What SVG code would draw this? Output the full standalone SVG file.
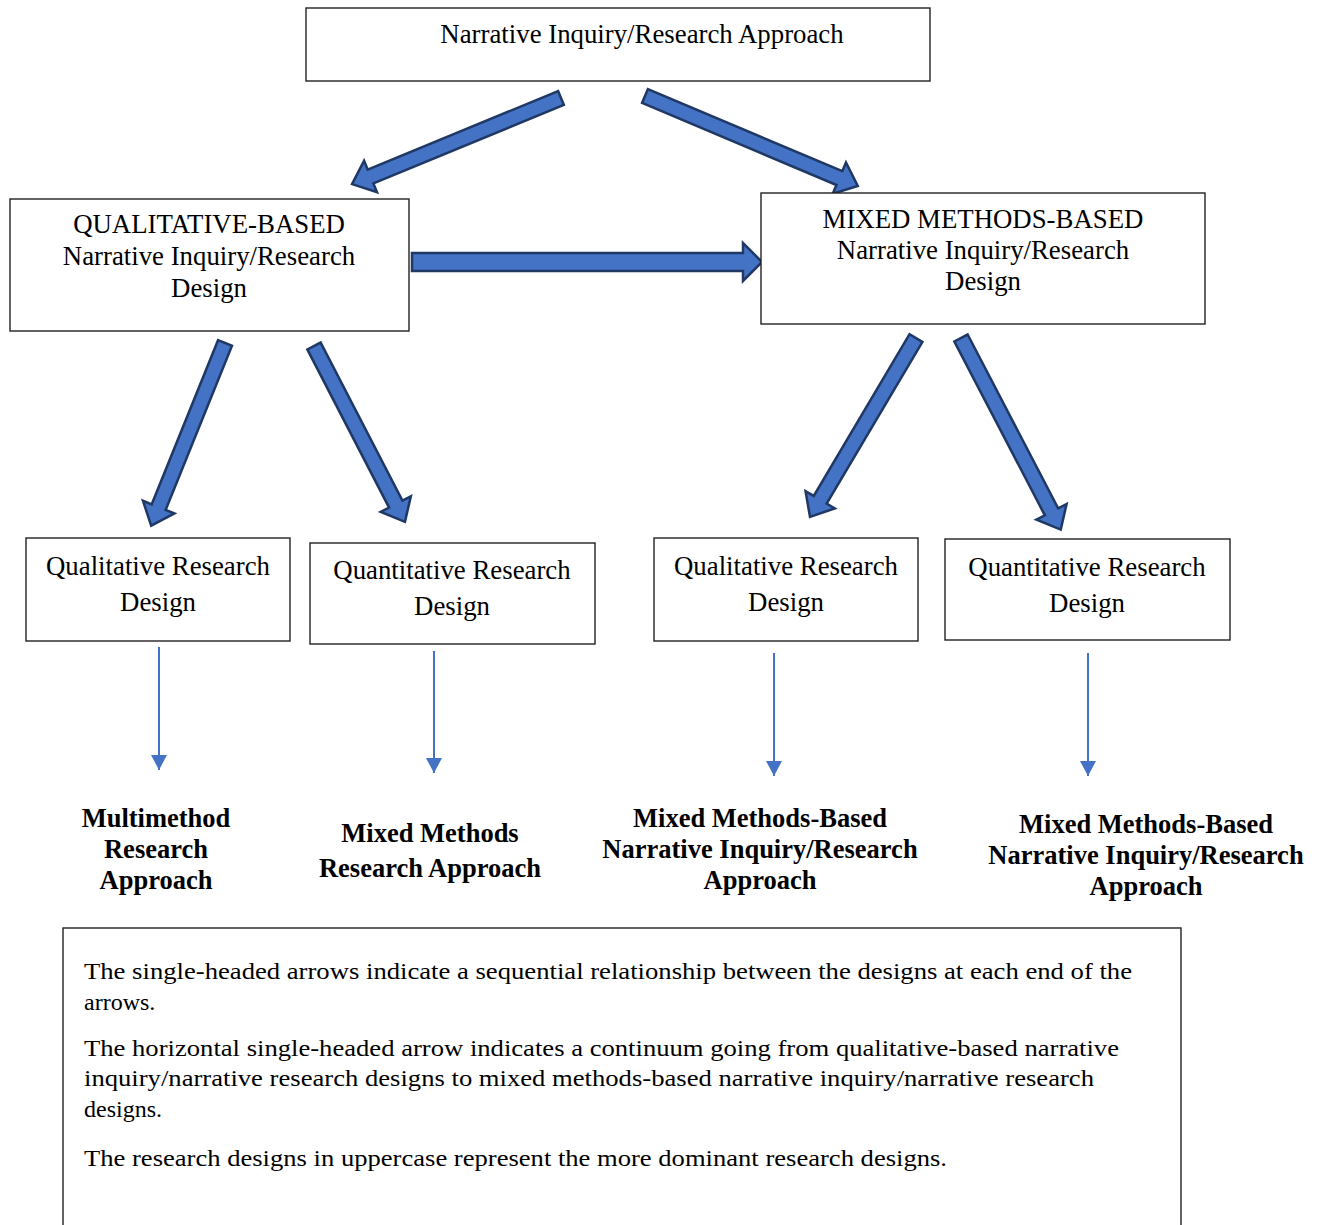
<svg xmlns="http://www.w3.org/2000/svg" width="1322" height="1225" viewBox="0 0 1322 1225">
<style>
.box{fill:#fff;stroke:#222;stroke-width:1.4}
.t{font-family:"Liberation Serif","Times New Roman",serif;font-size:26.8px;fill:#000;text-anchor:middle}
.b{font-family:"Liberation Serif","Times New Roman",serif;font-size:26.5px;font-weight:bold;fill:#000;text-anchor:middle}
.n{font-family:"Liberation Serif","Times New Roman",serif;font-size:24px;fill:#000}
.blk{fill:#4472C4;stroke:#1F3864;stroke-width:2.5;stroke-linejoin:miter}
.thin{stroke:#4472C4;stroke-width:2;fill:none}
</style>
<defs>
<marker id="ah" markerUnits="userSpaceOnUse" markerWidth="16" markerHeight="16" refX="15" refY="8" orient="auto">
<path d="M0,0 L15,8 L0,16 Z" fill="#4472C4"/>
</marker>
</defs>
<rect width="1322" height="1225" fill="#fff"/>

<g id="connectors">
<polygon class="blk" transform="translate(561,98) rotate(157.6)" points="0,-7.5 206,-7.5 206,-17 226,0 206,17 206,7.5 0,7.5"/>
<polygon class="blk" transform="translate(645,96) rotate(22.9)" points="0,-7.5 211,-7.5 211,-17 231,0 211,17 211,7.5 0,7.5"/>
<polygon class="blk" points="412,253 743,253 743,243 762,262 743,281 743,271 412,271"/>
<polygon class="blk" transform="translate(225,343) rotate(112)" points="0,-7.5 177,-7.5 177,-17 197,0 177,17 177,7.5 0,7.5"/>
<polygon class="blk" transform="translate(314,346) rotate(62.66)" points="0,-7.5 178,-7.5 178,-17 198,0 178,17 178,7.5 0,7.5"/>
<polygon class="blk" transform="translate(916,338) rotate(120.64)" points="0,-7.5 188,-7.5 188,-17 208,0 188,17 188,7.5 0,7.5"/>
<polygon class="blk" transform="translate(961,338) rotate(62.5)" points="0,-7.5 196,-7.5 196,-17 216,0 196,17 196,7.5 0,7.5"/>
<line class="thin" x1="159" y1="647" x2="159" y2="770" marker-end="url(#ah)"/>
<line class="thin" x1="434" y1="651" x2="434" y2="773" marker-end="url(#ah)"/>
<line class="thin" x1="774" y1="653" x2="774" y2="776" marker-end="url(#ah)"/>
<line class="thin" x1="1088" y1="653" x2="1088" y2="776" marker-end="url(#ah)"/>
</g>

<g id="top">
<rect class="box" x="306" y="8" width="624" height="73"/>
<text class="t" x="642" y="43">Narrative Inquiry/Research Approach</text>
</g>

<g id="qual-based">
<rect class="box" x="10" y="199" width="399" height="132"/>
<text class="t" x="209" y="233">QUALITATIVE-BASED</text>
<text class="t" x="209" y="265">Narrative Inquiry/Research</text>
<text class="t" x="209" y="297">Design</text>
</g>

<g id="mixed-based">
<rect class="box" x="761" y="193" width="444" height="131"/>
<text class="t" x="983" y="228">MIXED METHODS-BASED</text>
<text class="t" x="983" y="259">Narrative Inquiry/Research</text>
<text class="t" x="983" y="290">Design</text>
</g>

<g id="qual-1">
<rect class="box" x="26" y="538" width="264" height="103"/>
<text class="t" x="158" y="575">Qualitative Research</text>
<text class="t" x="158" y="611">Design</text>
</g>

<g id="quant-1">
<rect class="box" x="310" y="543" width="285" height="101"/>
<text class="t" x="452" y="579">Quantitative Research</text>
<text class="t" x="452" y="615">Design</text>
</g>

<g id="qual-2">
<rect class="box" x="654" y="538" width="264" height="103"/>
<text class="t" x="786" y="575">Qualitative Research</text>
<text class="t" x="786" y="611">Design</text>
</g>

<g id="quant-2">
<rect class="box" x="945" y="539" width="285" height="101"/>
<text class="t" x="1087" y="576">Quantitative Research</text>
<text class="t" x="1087" y="612">Design</text>
</g>

<g id="label-multimethod">
<text class="b" x="156" y="827">Multimethod</text>
<text class="b" x="156" y="858">Research</text>
<text class="b" x="156" y="889">Approach</text>
</g>

<g id="label-mixed">
<text class="b" x="430" y="842">Mixed Methods</text>
<text class="b" x="430" y="877">Research Approach</text>
</g>

<g id="label-mmb-1">
<text class="b" x="760" y="827">Mixed Methods-Based</text>
<text class="b" x="760" y="858">Narrative Inquiry/Research</text>
<text class="b" x="760" y="889">Approach</text>
</g>

<g id="label-mmb-2">
<text class="b" x="1146" y="833">Mixed Methods-Based</text>
<text class="b" x="1146" y="864">Narrative Inquiry/Research</text>
<text class="b" x="1146" y="895">Approach</text>
</g>

<g id="note">
<rect class="box" x="63" y="928" width="1118" height="320"/>
<text class="n" x="84" y="979" textLength="1048" lengthAdjust="spacingAndGlyphs">The single-headed arrows indicate a sequential relationship between the designs at each end of the</text>
<text class="n" x="84" y="1010">arrows.</text>
<text class="n" x="84" y="1056" textLength="1035" lengthAdjust="spacingAndGlyphs">The horizontal single-headed arrow indicates a continuum going from qualitative-based narrative</text>
<text class="n" x="84" y="1086" textLength="1010" lengthAdjust="spacingAndGlyphs">inquiry/narrative research designs to mixed methods-based narrative inquiry/narrative research</text>
<text class="n" x="84" y="1117">designs.</text>
<text class="n" x="84" y="1166" textLength="863" lengthAdjust="spacingAndGlyphs">The research designs in uppercase represent the more dominant research designs.</text>
</g>
</svg>
